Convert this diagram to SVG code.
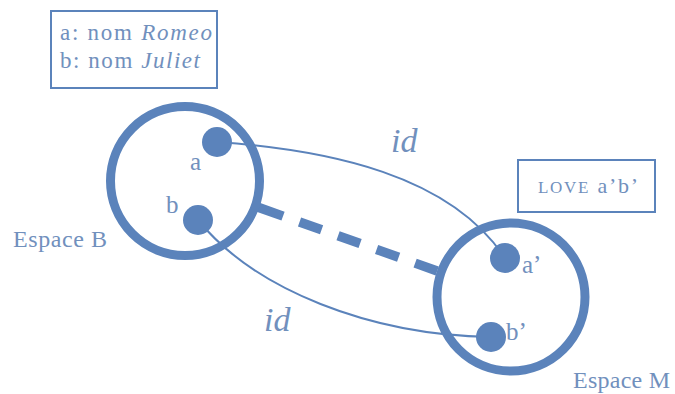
<svg xmlns="http://www.w3.org/2000/svg" width="675" height="394" viewBox="0 0 675 394">
  <style>
    .ring { fill: none; stroke: #5b83bb; stroke-width: 9; }
    .dot { fill: #5b83bb; }
    .thin { fill: none; stroke: #5b83bb; stroke-width: 2; }
    .dash { fill: none; stroke: #5b83bb; stroke-width: 9.5; }
    .box { fill: #ffffff; stroke: #5b83bb; stroke-width: 2; }
    .lbl { font-family: "Liberation Serif", "DejaVu Serif", serif; fill: #7190bd; }
    .it { font-style: italic; }
  </style>
  <rect width="675" height="394" fill="#ffffff"/>

  <!-- connectors: identity links and the dashed mapping between spaces -->
  <g id="connectors">
    <path class="thin" d="M217,142 C330,150 450,175 505,258"/>
    <path class="thin" d="M198,220 C255,290 370,335 491,337"/>
    <line class="dash" x1="256" y1="206.5" x2="440" y2="272"
          stroke-dasharray="28.7 17.5 23.4 17.5 23.4 17.5 23.4 17.5 23.4 40"/>
    <text class="lbl it" x="391" y="152" font-size="34">id</text>
    <text class="lbl it" x="264" y="331" font-size="34">id</text>
  </g>

  <!-- legend box -->
  <g id="legend">
    <rect class="box" x="51" y="11" width="166" height="77"/>
    <text class="lbl" x="60" y="40" font-size="23" textLength="152" lengthAdjust="spacing">a: nom <tspan class="it">Romeo</tspan></text>
    <text class="lbl" x="60" y="68" font-size="23" textLength="140" lengthAdjust="spacing">b: nom <tspan class="it">Juliet</tspan></text>
  </g>

  <!-- space B -->
  <g id="espace-b">
    <circle class="ring" cx="185" cy="181" r="74.5"/>
    <circle class="dot" cx="217" cy="142" r="15"/>
    <circle class="dot" cx="198" cy="220" r="15"/>
    <text class="lbl" x="190" y="170" font-size="25">a</text>
    <text class="lbl" x="166" y="213" font-size="25">b</text>
    <text class="lbl" x="13" y="247" font-size="24" textLength="94" lengthAdjust="spacing">Espace B</text>
  </g>

  <!-- space M -->
  <g id="espace-m">
    <circle class="ring" cx="511" cy="297" r="74"/>
    <circle class="dot" cx="505" cy="258" r="15"/>
    <circle class="dot" cx="491" cy="337" r="15"/>
    <text class="lbl" x="522" y="273" font-size="25">a’</text>
    <text class="lbl" x="506" y="340" font-size="25">b’</text>
    <text class="lbl" x="573" y="388" font-size="24" textLength="97" lengthAdjust="spacing">Espace M</text>
  </g>

  <!-- blend box -->
  <g id="love">
    <rect class="box" x="518" y="160" width="137" height="52"/>
    <text class="lbl" x="538" y="193" font-size="22" textLength="100" lengthAdjust="spacing"><tspan font-size="17">LOVE</tspan> a’b’</text>
  </g>
</svg>
